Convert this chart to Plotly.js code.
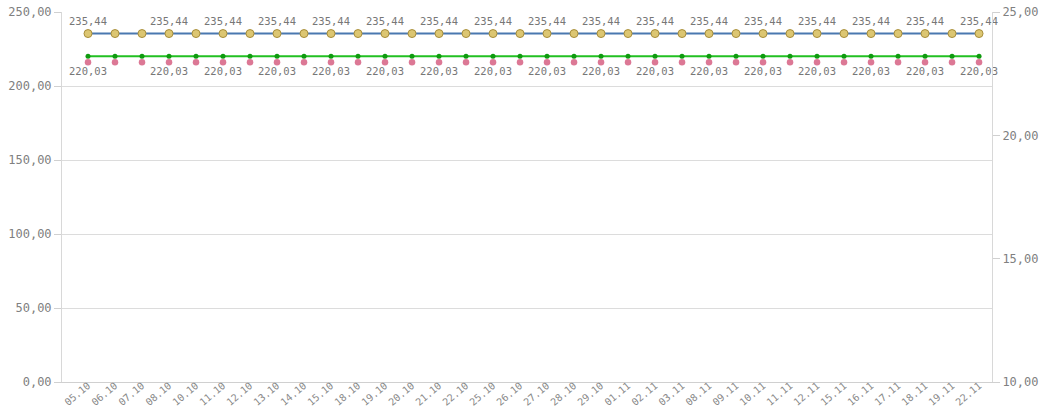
<!DOCTYPE html>
<html>
<head>
<meta charset="utf-8">
<script src="https://cdn.plot.ly/plotly-3.0.1.min.js"></script>
<style>html,body{margin:0;padding:0;background:#fff;}#chart{width:1041px;height:414px;}</style>
</head>
<body>
<div id="chart"></div>
<script>
const categories = ["05.10","06.10","07.10","08.10","10.10","11.10","12.10","13.10","14.10","15.10","18.10","19.10","20.10","21.10","22.10","25.10","26.10","27.10","28.10","29.10","01.11","02.11","03.11","08.11","09.11","10.11","11.11","12.11","15.11","16.11","17.11","18.11","19.11","22.11"];
const upperValues = [235.44,235.44,235.44,235.44,235.44,235.44,235.44,235.44,235.44,235.44,235.44,235.44,235.44,235.44,235.44,235.44,235.44,235.44,235.44,235.44,235.44,235.44,235.44,235.44,235.44,235.44,235.44,235.44,235.44,235.44,235.44,235.44,235.44,235.44];
const lowerValues = [220.03,220.03,220.03,220.03,220.03,220.03,220.03,220.03,220.03,220.03,220.03,220.03,220.03,220.03,220.03,220.03,220.03,220.03,220.03,220.03,220.03,220.03,220.03,220.03,220.03,220.03,220.03,220.03,220.03,220.03,220.03,220.03,220.03,220.03];
const rightValues = [22.96,22.96,22.96,22.96,22.96,22.96,22.96,22.96,22.96,22.96,22.96,22.96,22.96,22.96,22.96,22.96,22.96,22.96,22.96,22.96,22.96,22.96,22.96,22.96,22.96,22.96,22.96,22.96,22.96,22.96,22.96,22.96,22.96,22.96];
const leftTicks = [0,50,100,150,200,250];
const rightTicks = [10,15,20,25];

const fmt = v => v.toFixed(2).replace('.', ',');
const showLabel = i => i === 0 || (i >= 3 && i % 2 === 1);
const upperText = upperValues.map((v,i) => showLabel(i) ? fmt(v) : '');
const lowerText = lowerValues.map((v,i) => showLabel(i) ? fmt(v) : '');

const mono = 'DejaVu Sans Mono, monospace';

const traces = [
  {
    x: categories, y: upperValues, type: 'scatter', mode: 'lines+markers+text',
    line: {color: '#4a78b0', width: 2},
    marker: {size: 8, color: '#dcc672', line: {color: '#a88e3a', width: 1}},
    text: upperText, textposition: 'top center',
    textfont: {family: mono, size: 10.5, color: '#777'},
    cliponaxis: false, hoverinfo: 'skip'
  },
  {
    x: categories, y: lowerValues, type: 'scatter', mode: 'lines+markers',
    line: {color: '#22c022', width: 2},
    marker: {size: 5, color: '#0f9a0f'},
    cliponaxis: false, hoverinfo: 'skip'
  },
  {
    x: categories, y: rightValues, yaxis: 'y2', type: 'scatter', mode: 'markers+text',
    marker: {size: 6.5, color: 'rgba(214,96,130,0.85)'},
    text: lowerText, textposition: 'bottom center',
    textfont: {family: mono, size: 10.5, color: '#777'},
    cliponaxis: false, hoverinfo: 'skip'
  }
];

const layout = {
  width: 1041, height: 414,
  margin: {l: 62, r: 49, t: 12, b: 32, pad: 0},
  paper_bgcolor: '#fff', plot_bgcolor: '#fff',
  separators: ',.',
  showlegend: false,
  font: {family: mono, color: '#808080'},
  xaxis: {
    type: 'category', range: [-0.963, 33.48],
    tickangle: -40, tickfont: {family: mono, size: 10, color: '#888'},
    ticklabelstandoff: -7,
    showgrid: false, showline: true, linecolor: '#d0d0d0', linewidth: 1,
    ticks: '', zeroline: false, fixedrange: true
  },
  yaxis: {
    range: [0, 250], tickvals: leftTicks, tickformat: '.2f',
    tickfont: {family: mono, size: 12, color: '#808080'},
    showgrid: true, gridcolor: '#dcdcdc', gridwidth: 1,
    showline: true, linecolor: '#d8d8d8', linewidth: 1,
    ticks: 'outside', ticklen: 7, tickcolor: '#d0d0d0',
    zeroline: false, fixedrange: true
  },
  yaxis2: {
    overlaying: 'y', side: 'right', range: [10, 25], tickvals: rightTicks, tickformat: '.2f',
    tickfont: {family: mono, size: 12, color: '#808080'},
    showgrid: false, showline: true, linecolor: '#d8d8d8', linewidth: 1,
    ticks: 'outside', ticklen: 7, tickcolor: '#d0d0d0',
    zeroline: false, fixedrange: true
  }
};

Plotly.newPlot('chart', traces, layout, {displayModeBar: false, staticPlot: true});
</script>
</body>
</html>
